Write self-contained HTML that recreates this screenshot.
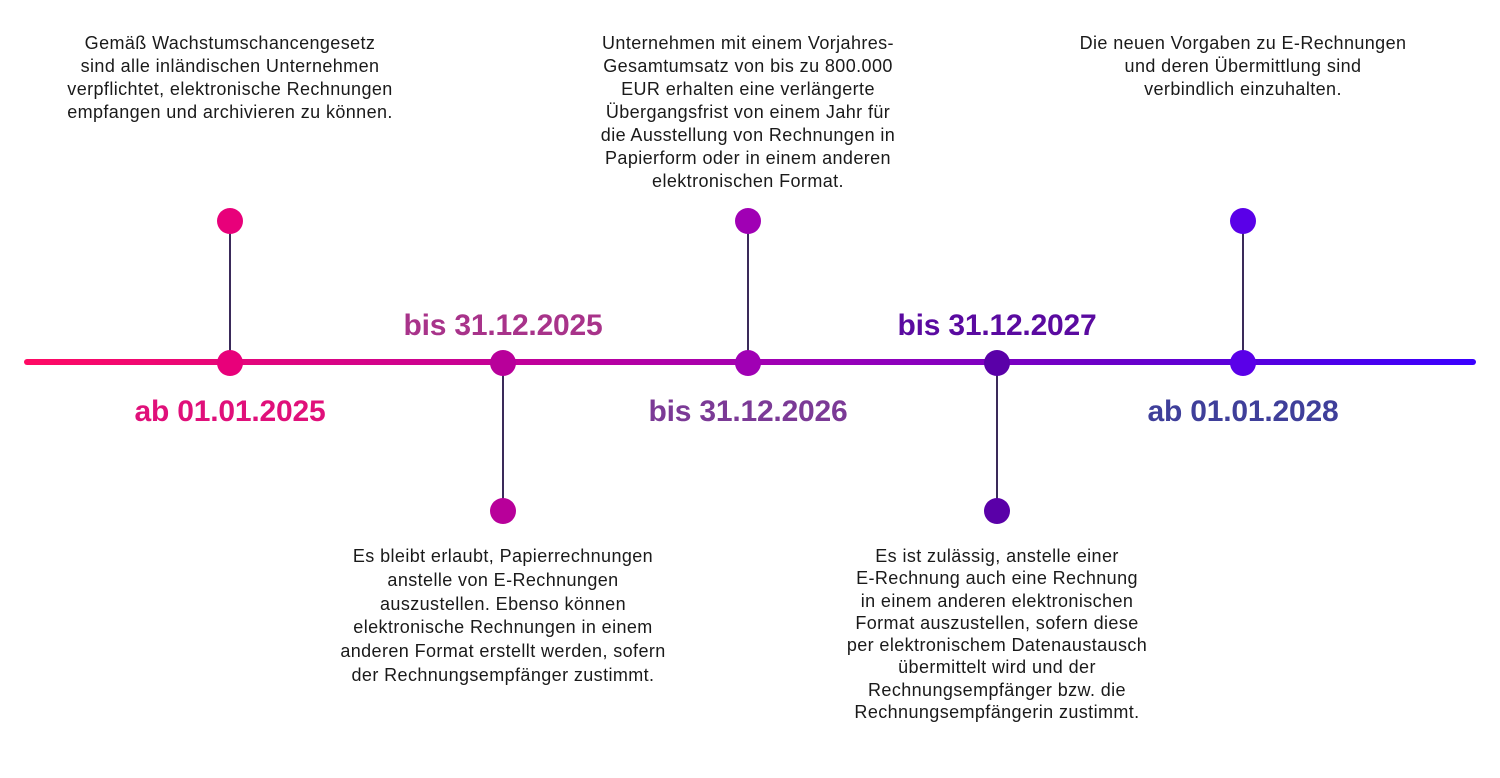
<!DOCTYPE html>
<html><head><meta charset="utf-8"><style>
body{margin:0;width:1500px;height:778px;background:#fff;position:relative;overflow:hidden;font-family:"Liberation Sans",sans-serif;}
.t{position:absolute;text-align:center;font-size:18px;letter-spacing:0.4px;line-height:23px;color:#1a1a1a;transform:translateX(-50%);white-space:nowrap;}
.d{position:absolute;font-weight:bold;font-size:30px;letter-spacing:-0.2px;transform:translate(-50%,-50%);white-space:nowrap;}
.c{position:absolute;width:26px;height:26px;border-radius:50%;transform:translate(-50%,-50%);}
.s{position:absolute;width:2px;background:#3a2a5a;transform:translateX(-50%);}
</style></head><body>
<div style="position:absolute;left:24px;top:359px;width:1452px;height:6px;border-radius:3px;background:linear-gradient(90deg,#ff0a64,#c0009a 35%,#9a00b8 55%,#6a00c8 75%,#3a00ff)"></div>
<div class="s" style="left:230px;top:221px;height:141px"></div>
<div class="s" style="left:748px;top:221px;height:141px"></div>
<div class="s" style="left:1243px;top:221px;height:141px"></div>
<div class="s" style="left:503px;top:362px;height:149px"></div>
<div class="s" style="left:997px;top:362px;height:149px"></div>
<div class="c" style="left:230px;top:221px;background:#e8007a"></div>
<div class="c" style="left:230px;top:363px;background:#e8007a"></div>
<div class="c" style="left:503px;top:363px;background:#b8009a"></div>
<div class="c" style="left:503px;top:511px;background:#b8009a"></div>
<div class="c" style="left:748px;top:221px;background:#a000b4"></div>
<div class="c" style="left:748px;top:363px;background:#a000b4"></div>
<div class="c" style="left:997px;top:363px;background:#5a00a8"></div>
<div class="c" style="left:997px;top:511px;background:#5a00a8"></div>
<div class="c" style="left:1243px;top:221px;background:#5a00e8"></div>
<div class="c" style="left:1243px;top:363px;background:#5a00e8"></div>
<div class="d" style="left:230px;top:412px;color:#e0107a">ab 01.01.2025</div>
<div class="d" style="left:503px;top:326px;color:#a8338a">bis 31.12.2025</div>
<div class="d" style="left:748px;top:412px;color:#7b3a96">bis 31.12.2026</div>
<div class="d" style="left:997px;top:326px;color:#5a0aa0">bis 31.12.2027</div>
<div class="d" style="left:1243px;top:412px;color:#3f3f9a">ab 01.01.2028</div>
<div class="t" style="left:230px;top:32px">Gemäß Wachstumschancengesetz<br>sind alle inländischen Unternehmen<br>verpflichtet, elektronische Rechnungen<br>empfangen und archivieren zu können.</div>
<div class="t" style="left:748px;top:32px">Unternehmen mit einem Vorjahres-<br>Gesamtumsatz von bis zu 800.000<br>EUR erhalten eine verlängerte<br>Übergangsfrist von einem Jahr für<br>die Ausstellung von Rechnungen in<br>Papierform oder in einem anderen<br>elektronischen Format.</div>
<div class="t" style="left:1243px;top:32px">Die neuen Vorgaben zu E-Rechnungen<br>und deren Übermittlung sind<br>verbindlich einzuhalten.</div>
<div class="t" style="left:503px;top:545px;line-height:23.8px">Es bleibt erlaubt, Papierrechnungen<br>anstelle von E-Rechnungen<br>auszustellen. Ebenso können<br>elektronische Rechnungen in einem<br>anderen Format erstellt werden, sofern<br>der Rechnungsempfänger zustimmt.</div>
<div class="t" style="left:997px;top:545px;line-height:22.3px">Es ist zulässig, anstelle einer<br>E-Rechnung auch eine Rechnung<br>in einem anderen elektronischen<br>Format auszustellen, sofern diese<br>per elektronischem Datenaustausch<br>übermittelt wird und der<br>Rechnungsempfänger bzw. die<br>Rechnungsempfängerin zustimmt.</div>
</body></html>
